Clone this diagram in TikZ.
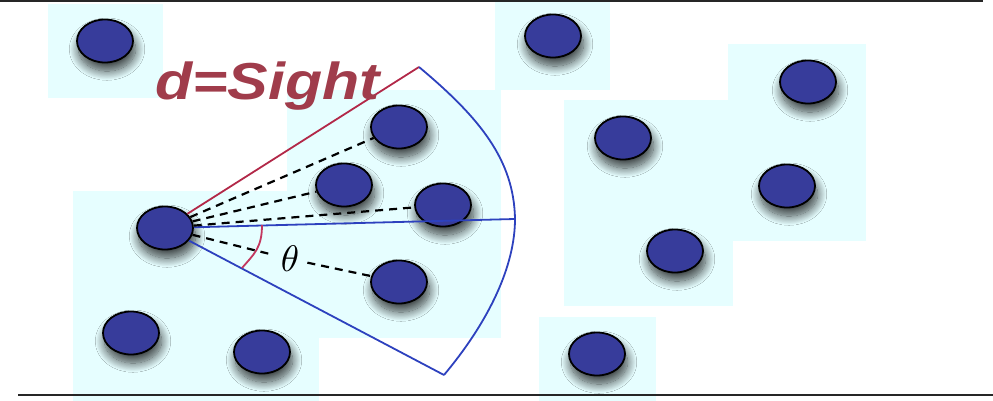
\documentclass[tikz,border=0pt]{standalone}
\usepackage{fontspec}
\usepackage{graphicx}
\newfontfamily\labelfont[FakeStretch=1.17]{Liberation Sans}
\usetikzlibrary{shapes.geometric, shadows.blur}

\definecolor{agentblue}{RGB}{55,60,155}
\definecolor{fieldcyan}{RGB}{230,254,255}
\definecolor{fovblue}{RGB}{45,65,190}
\definecolor{sightred}{RGB}{178,40,72}
\definecolor{anglered}{RGB}{195,55,95}
\definecolor{labelred}{RGB}{160,60,75}

\begin{document}
\begin{tikzpicture}[
        x=1pt, y=-1pt,
        field/.style={fill=fieldcyan},
        agent/.style={ellipse, draw, line width=1.8pt, fill=agentblue, minimum width=56pt, minimum height=43pt, inner sep=0pt,
            blur shadow={shadow xshift=2pt, shadow yshift=-8pt, shadow scale=1.02, shadow blur radius=9pt, shadow blur steps=16, shadow opacity=75}},
        ray/.style={dash pattern=on 8pt off 6pt, line width=2.2pt},
        sightedge/.style={draw=sightred, line width=1.8pt},
        fovedge/.style={draw=fovblue, line width=1.8pt},
        rule/.style={line width=1.8pt, black!85}
    ]
        \useasboundingbox (0,0) rectangle (993,401);

        % areas
        \fill[field] (48,4) rectangle (163,98);
        \fill[field] (495,0) rectangle (610,90);
        \fill[field] (73,191) rectangle (319,401);
        \fill[field] (287,90) rectangle (501,338);
        \fill[field] (564,100) rectangle (733,306);
        \fill[field] (728,44) rectangle (866,241);
        \fill[field] (539,317) rectangle (656,401);

        \draw[rule] (0,1) -- (983,1);
        \draw[rule] (18,395) -- (993,395);

        % agents
        \node[agent] (self) at (165,228) {};
        \node[agent] (seenA) at (399,127) {};
        \node[agent] (seenB) at (344,185) {};
        \node[agent] (seenC) at (443,205) {};
        \node[agent] (seenD) at (399,282) {};
        \node[agent] (farA) at (105,41) {};
        \node[agent] (farB) at (131,333) {};
        \node[agent] (farC) at (262,352) {};
        \node[agent] (farD) at (553,36) {};
        \node[agent] (farE) at (808,82) {};
        \node[agent] (farF) at (623,138) {};
        \node[agent] (farG) at (787,186) {};
        \node[agent] (farH) at (675,251) {};
        \node[agent] (farI) at (597,354) {};

        % field of view
        \coordinate (sightL) at (419,67);
        \coordinate (sightM) at (515,219);
        \coordinate (sightR) at (444,375);
        \coordinate (angleA) at (262,225);
        \coordinate (angleB) at (242,268);

        \draw[sightedge] (self) -- (sightL);
        \draw[fovedge] (self) -- (sightM);
        \draw[fovedge] (self) -- (sightR);
        \draw[fovedge] (sightL) .. controls (480,118) and (514,160) .. (sightM)
            .. controls (515,265) and (490,320) .. (sightR);
        \draw[draw=anglered, line width=1.8pt] (angleA) .. controls (262,248) and (254,254) .. (angleB);

        \node[inner sep=8pt] (theta) at (290,259) {\scalebox{3.7}{$\theta$}};

        \draw[ray] (self) -- (seenA);
        \draw[ray] (self) -- (seenB);
        \draw[ray] (self) -- (seenC);
        \draw[ray] (self) -- (theta) -- (seenD);

        \node[anchor=base west, inner sep=0pt, text=labelred, font=\labelfont\bfseries\itshape\fontsize{52}{52}\selectfont] (sight) at (155,100) {d=Sight};
    \end{tikzpicture}
\end{document}
